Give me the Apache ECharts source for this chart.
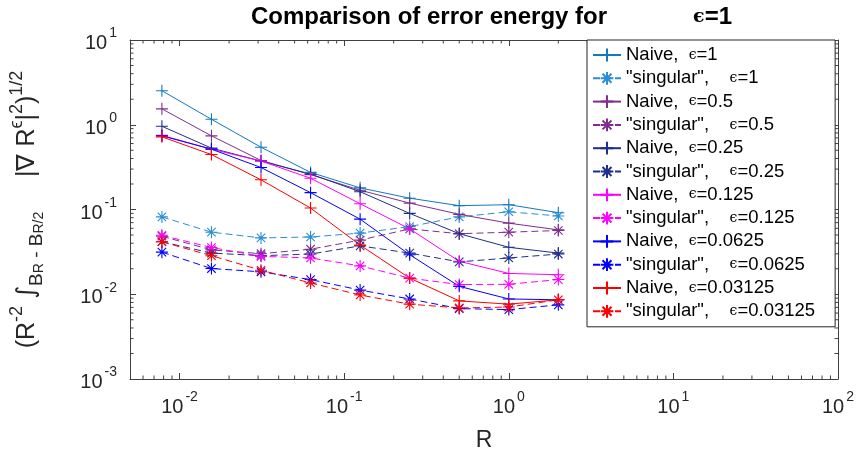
<!DOCTYPE html>
<html><head><meta charset="utf-8">
<script src="https://cdn.jsdelivr.net/npm/echarts@6/dist/echarts.min.js"></script>
<style>html,body{margin:0;padding:0;background:#fff}#c{width:859px;height:457px}</style>
</head><body><div id="c"></div>
<script>
// ---- data ----
const R = [0.0078125, 0.015625, 0.03125, 0.0625, 0.125, 0.25, 0.5, 1, 2];
const epsLabels = ['1', '0.5', '0.25', '0.125', '0.0625', '0.03125'];
const naive_1 = [2.52, 1.16, 0.543, 0.274, 0.18, 0.136, 0.111, 0.114, 0.0917];
const singular_1 = [0.0818, 0.054, 0.0462, 0.0474, 0.0527, 0.0628, 0.0818, 0.094, 0.0839];
const naive_05 = [1.54, 0.74, 0.379, 0.258, 0.169, 0.119, 0.0877, 0.069, 0.0575];
const singular_05 = [0.0483, 0.0334, 0.0301, 0.034, 0.0435, 0.059, 0.0518, 0.054, 0.0565];
const naive_025 = [0.96, 0.53, 0.373, 0.262, 0.162, 0.09, 0.0518, 0.0358, 0.0306];
const singular_025 = [0.0416, 0.0306, 0.0285, 0.0298, 0.0372, 0.0306, 0.0241, 0.0268, 0.0298];
const naive_0125 = [0.75, 0.515, 0.373, 0.234, 0.117, 0.059, 0.0245, 0.0176, 0.017];
const singular_0125 = [0.0496, 0.0356, 0.028, 0.0268, 0.0216, 0.0155, 0.013, 0.0131, 0.0149];
const naive_00625 = [0.74, 0.515, 0.313, 0.158, 0.0769, 0.0293, 0.0124, 0.0088, 0.0086];
const singular_00625 = [0.0314, 0.0201, 0.0184, 0.0149, 0.0112, 0.0088, 0.00677, 0.00659, 0.0075];
const naive_003125 = [0.72, 0.445, 0.224, 0.104, 0.038, 0.0155, 0.00835, 0.00764, 0.0086];
const singular_003125 = [0.0416, 0.0285, 0.0192, 0.0136, 0.0098, 0.00764, 0.00689, 0.00706, 0.0086];
const xMin = 0.005, xMax = 100, yMin = 0.001, yMax = 10;

const naiveSets = [naive_1, naive_05, naive_025, naive_0125, naive_00625, naive_003125];
const singSets = [singular_1, singular_05, singular_025, singular_0125, singular_00625, singular_003125];
const naiveColors = ['#1478c0', '#7e2f8e', '#1f2f8c', '#ff00ff', '#0000ff', '#ff0000'];
const singColors = ['#2a8fd2', '#7e2f8e', '#1f2f8c', '#ff00ff', '#0000ff', '#ff0000'];

const PLUS = 'path://M0,5L10,5M5,0L5,10';
const STAR = 'path://M5,0L5,10M0,5L10,5M1.5,1.5L8.5,8.5M1.5,8.5L8.5,1.5';
const FONT = 'Liberation Sans';
const AX = '#404040';
const TXT = '#262626';

const series = [];
const legendNames = [];
const legendText = {};
for (let i = 0; i < epsLabels.length; i++) {
  const nN = 'Naive, eps=' + epsLabels[i];
  const nS = 'singular, eps=' + epsLabels[i];
  legendNames.push(nN, nS);
  legendText[nN] = '{t|Naive,  }{e|ϵ}{t|=' + epsLabels[i] + '}';
  legendText[nS] = '{t|"singular",    }{e|ϵ}{t|=' + epsLabels[i] + '}';
  series.push({
    name: nN, type: 'line', data: R.map((r, k) => [r, naiveSets[i][k]]),
    symbol: PLUS, symbolSize: 12, symbolKeepAspect: true,
    lineStyle: { color: naiveColors[i], width: 1 },
    itemStyle: { color: naiveColors[i], borderColor: naiveColors[i], borderWidth: 1.1 },
    emphasis: { disabled: true }, animation: false, clip: false
  });
  series.push({
    name: nS, type: 'line', data: R.map((r, k) => [r, singSets[i][k]]),
    symbol: STAR, symbolSize: 12, symbolKeepAspect: true,
    lineStyle: { color: singColors[i], width: 1, type: [7, 4] },
    itemStyle: { color: singColors[i], borderColor: singColors[i], borderWidth: 1.1 },
    emphasis: { disabled: true }, animation: false, clip: false
  });
}

// minor ticks (axis decoration at 2..9 x 10^k)
const minorX = [], minorY = [];
for (let k = -3; k <= 1; k++) for (let m = 2; m <= 9; m++) { const v = m * Math.pow(10, k); if (v > xMin && v < xMax) minorX.push(v); }
for (let k = -3; k <= 0; k++) for (let m = 2; m <= 9; m++) { const v = m * Math.pow(10, k); if (v > yMin && v < yMax) minorY.push(v); }
series.push({
  type: 'custom', silent: true, animation: false, clip: false, z: 1,
  data: minorX.map(v => [v, 1]),
  renderItem: function (params, api) {
    const cs = params.coordSys;
    const x = api.coord([api.value(0), 1])[0];
    const b = cs.y + cs.height;
    return { type: 'group', children: [
      { type: 'line', shape: { x1: x, y1: b, x2: x, y2: b - 3.5 }, style: { stroke: AX, lineWidth: 1 } },
      { type: 'line', shape: { x1: x, y1: cs.y, x2: x, y2: cs.y + 3.5 }, style: { stroke: AX, lineWidth: 1 } }
    ]};
  }
});
series.push({
  type: 'custom', silent: true, animation: false, clip: false, z: 1,
  data: minorY.map(v => [0.01, v]),
  renderItem: function (params, api) {
    const cs = params.coordSys;
    const y = api.coord([0.01, api.value(1)])[1];
    const r = cs.x + cs.width;
    return { type: 'group', children: [
      { type: 'line', shape: { x1: cs.x, y1: y, x2: cs.x + 3.5, y2: y }, style: { stroke: AX, lineWidth: 1 } },
      { type: 'line', shape: { x1: r, y1: y, x2: r - 3.5, y2: y }, style: { stroke: AX, lineWidth: 1 } }
    ]};
  }
});

const powFmt = v => '{b|10}{s|' + Math.round(Math.log10(v)) + '}';
const tickRich = {
  b: { fontSize: 20, fontFamily: FONT, color: TXT, verticalAlign: 'bottom', lineHeight: 27, padding: [0, 2, 0, 0] },
  s: { fontSize: 14, fontFamily: FONT, color: TXT, verticalAlign: 'top', lineHeight: 14 }
};
function axisCommon(extra) {
  return Object.assign({
    type: 'log', logBase: 10,
    axisLine: { show: true, lineStyle: { color: AX, width: 1 } },
    axisTick: { show: true, inside: true, length: 6, lineStyle: { color: AX, width: 1 } },
    splitLine: { show: false }, minorTick: { show: false }, minorSplitLine: { show: false }
  }, extra);
}

const option = {
  backgroundColor: '#ffffff',
  animation: false,
  grid: { left: 123, right: 21, top: 40, bottom: 67, containLabel: false },
  title: {
    left: 246, top: 0,
    text: '{b|Comparison of error energy for}{g|}{e|ϵ}{b|=1}',
    textStyle: { rich: {
      b: { fontSize: 24, fontWeight: 'bold', fontFamily: FONT, color: '#000' },
      g: { width: 86 },
      e: { fontSize: 19, fontFamily: 'DejaVu Serif', color: '#000' }
    }}
  },
  xAxis: [
    axisCommon({ position: 'bottom', min: xMin, max: xMax,
      name: 'R', nameLocation: 'middle', nameGap: 50,
      nameTextStyle: { fontSize: 23, fontFamily: FONT, color: TXT },
      axisLabel: { show: true, margin: 11, showMinLabel: false, formatter: powFmt, rich: tickRich } }),
    axisCommon({ position: 'top', min: xMin, max: xMax, axisLabel: { show: false } })
  ],
  yAxis: [
    axisCommon({ position: 'left', min: yMin, max: yMax,
      name: '{n|(R}{p|-2}{n| }{i|∫}{sb|B}{ss|R}{sb| - B}{ss|R/2}{n|     |∇ R}{p|ϵ}{n||}{p|2}{n|)}{p|1/2}',
      nameLocation: 'middle', nameRotate: 90, nameGap: 84,
      nameTextStyle: { rich: {
        n: { fontSize: 25, fontFamily: FONT, color: TXT, verticalAlign: 'middle', lineHeight: 38 },
        p: { fontSize: 18, fontFamily: FONT, color: TXT, verticalAlign: 'top', lineHeight: 17 },
        i: { fontSize: 25, fontFamily: 'DejaVu Sans', color: TXT, verticalAlign: 'middle', lineHeight: 38 },
        sb: { fontSize: 19, fontFamily: FONT, color: TXT, verticalAlign: 'bottom', lineHeight: 22 },
        ss: { fontSize: 14, fontFamily: FONT, color: TXT, verticalAlign: 'bottom', lineHeight: 12 }
      }},
      axisLabel: { show: true, margin: 13, formatter: powFmt, rich: tickRich } }),
    axisCommon({ position: 'right', min: yMin, max: yMax, axisLabel: { show: false } })
  ],
  legend: {
    data: legendNames,
    orient: 'vertical', left: 587, top: 40,
    padding: [5.5, 20, 6, 5],
    itemWidth: 28, itemHeight: 16, itemGap: 4.3,
    backgroundColor: '#ffffff', borderColor: '#262626', borderWidth: 1,
    formatter: name => legendText[name],
    textStyle: { fontSize: 18.5, fontFamily: FONT, color: '#000', lineHeight: 16,
      rich: {
        t: { fontSize: 18.5, fontFamily: FONT, color: '#000', lineHeight: 16 },
        e: { fontSize: 14, fontFamily: 'DejaVu Serif', color: '#000', lineHeight: 16 }
      } },
    selectedMode: false, z: 10
  },
  series: series
};
const chart = echarts.init(document.getElementById('c'), null, { renderer: 'canvas' });
chart.setOption(option);
</script>
</body></html>
